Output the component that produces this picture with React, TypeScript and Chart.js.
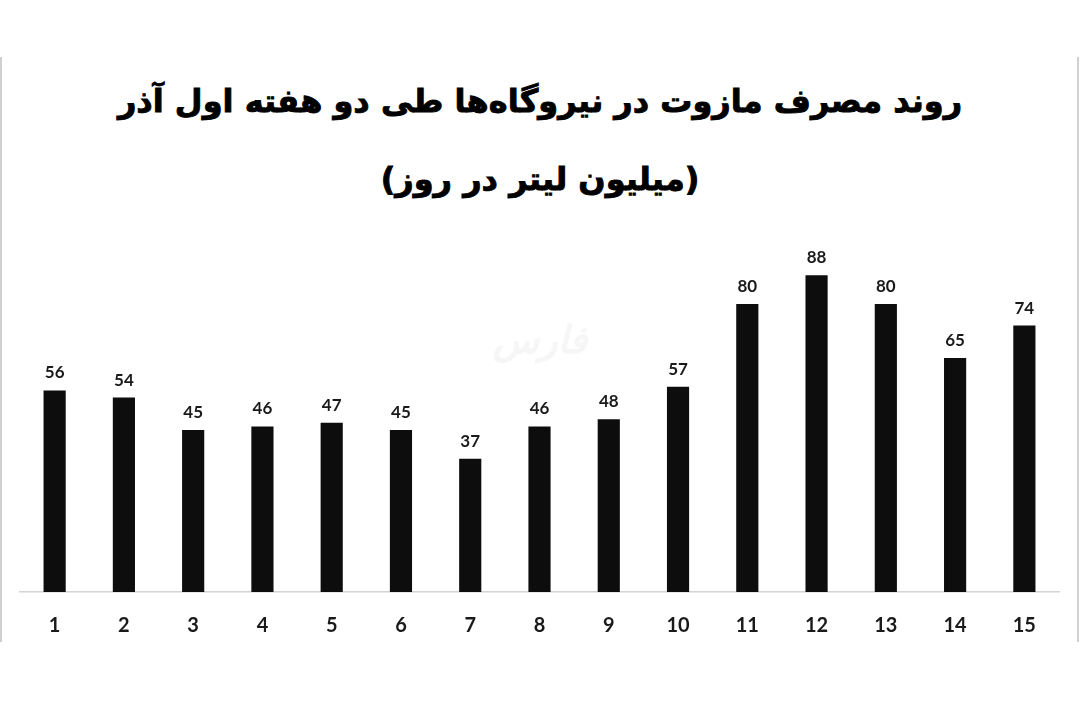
import React, { useEffect, useRef } from "react";
import { Chart, registerables } from "chart.js";

Chart.register(...registerables);

const titleLine1 = "روند مصرف مازوت در نیروگاه‌ها طی دو هفته اول آذر";
const titleLine2 = "(میلیون لیتر در روز)";
const watermark = "فارس";
const days: string[] = ["1", "2", "3", "4", "5", "6", "7", "8", "9", "10", "11", "12", "13", "14", "15"];
const consumption: number[] = [56, 54, 45, 46, 47, 45, 37, 46, 48, 57, 80, 88, 80, 65, 74];

const valueLabels = {
  id: "valueLabels",
  afterDatasetsDraw(chart: any) {
    const ctx = chart.ctx;
    const meta = chart.getDatasetMeta(0);
    ctx.save();
    ctx.font = "bold 17px Lato, 'DejaVu Sans', sans-serif";
    ctx.fillStyle = "#1a1a1a";
    ctx.textAlign = "center";
    ctx.textBaseline = "bottom";
    meta.data.forEach((bar: any, i: number) => {
      ctx.fillText(String(chart.data.datasets[0].data[i]), bar.x, bar.y - 9);
    });
    ctx.restore();
  },
};

const titleStyle: React.CSSProperties = {
  position: "absolute",
  left: 0,
  width: 1080,
  textAlign: "center",
  fontFamily: "'DejaVu Sans', sans-serif",
  fontWeight: "bold",
  fontSize: 32,
  lineHeight: "48px",
  color: "#000",
  WebkitTextStroke: "0.9px #000",
};

export default function App() {
  const canvasRef = useRef<HTMLCanvasElement | null>(null);

  useEffect(() => {
    if (!canvasRef.current) return;
    const chart = new Chart(canvasRef.current, {
      type: "bar",
      data: {
        labels: days,
        datasets: [
          {
            data: consumption,
            backgroundColor: "#0d0d0d",
            borderWidth: 0,
            barPercentage: 0.32,
            categoryPercentage: 1,
          },
        ],
      },
      options: {
        animation: false,
        responsive: false,
        maintainAspectRatio: false,
        layout: { padding: { left: 20, right: 21, top: 32, bottom: 0 } },
        plugins: {
          legend: { display: false },
          tooltip: { enabled: false },
          title: { display: false },
        },
        scales: {
          x: {
            grid: { display: false, drawTicks: false },
            border: { display: true, color: "#d4d4d4", width: 1.5 },
            ticks: {
              padding: 22,
              color: "#1a1a1a",
              font: { family: "Lato, 'DejaVu Sans', sans-serif", size: 20, weight: "bold" },
            },
            afterFit: (scale: any) => {
              scale.height = 58;
            },
          },
          y: {
            display: false,
            min: 0,
            max: 100,
          },
        },
      },
      plugins: [valueLabels],
    });
    return () => chart.destroy();
  }, []);

  return (
    <div style={{ position: "absolute", left: 0, top: 0, width: 1080, height: 709, background: "#ffffff", overflow: "hidden" }}>
      <div style={{ position: "absolute", left: 0, top: 57, width: 2, height: 585, background: "#d0d0d0" }} />
      <div style={{ position: "absolute", left: 1077, top: 57, width: 2, height: 585, background: "#d0d0d0" }} />
      <div dir="rtl" style={{ ...titleStyle, top: 77 }}>
        {titleLine1}
      </div>
      <div dir="rtl" style={{ ...titleStyle, top: 155 }}>
        {titleLine2}
      </div>
      <div
        dir="rtl"
        style={{
          position: "absolute",
          left: 460,
          top: 318,
          width: 160,
          textAlign: "center",
          fontFamily: "'DejaVu Sans', sans-serif",
          fontWeight: "bold",
          fontStyle: "italic",
          fontSize: 38,
          color: "#f6f6f6",
        }}
      >
        {watermark}
      </div>
      <canvas ref={canvasRef} width={1080} height={450} style={{ position: "absolute", left: 0, top: 200, width: 1080, height: 450 }} />
    </div>
  );
}
